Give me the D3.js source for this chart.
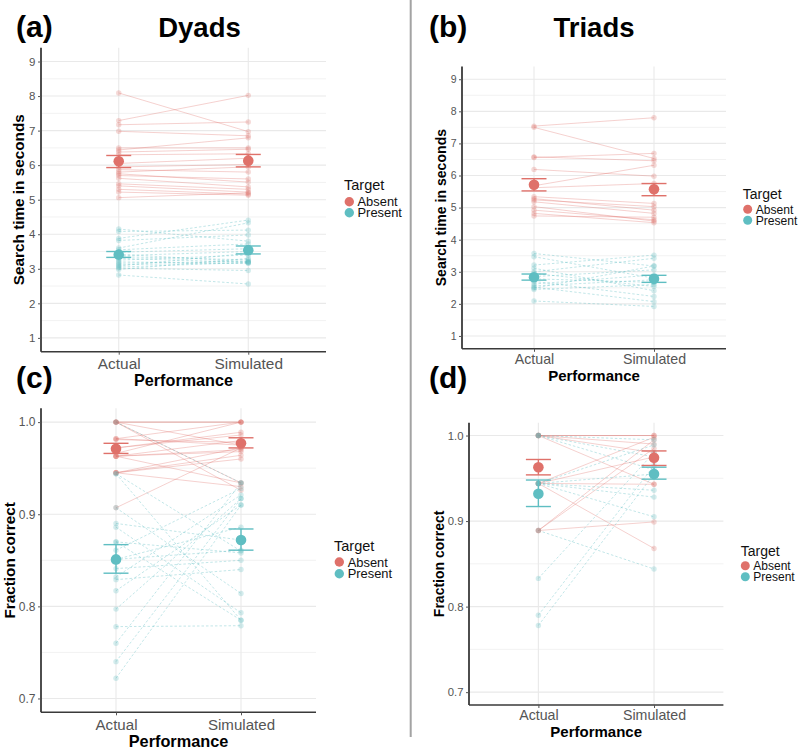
<!DOCTYPE html>
<html><head><meta charset="utf-8">
<script src="https://cdn.jsdelivr.net/npm/d3@7"></script>
<style>body{margin:0;background:#fff}svg{display:block;font-family:"Liberation Sans",Arial,Helvetica,sans-serif}</style>
</head><body><svg id="chart" width="800" height="749"></svg>
<script>
// ---------- data ----------
const categories = ["Actual", "Simulated"];
const targetLevels = ["Absent", "Present"];
const timeTicks = [1, 2, 3, 4, 5, 6, 7, 8, 9];
const timeMinor = [1.5, 2.5, 3.5, 4.5, 5.5, 6.5, 7.5, 8.5];
const fracTicks = [0.7, 0.8, 0.9, 1.0];
const fracMinor = [0.75, 0.85, 0.95];

// (a) Dyads, search time: [Actual, Simulated] per dyad
const dyadsTimeAbsent = [[8.09,6.97],[7.29,8.02],[7.17,7.25],[6.98,6.85],[6.50,6.50],[6.44,6.79],[6.38,6.46],[6.30,6.33],[6.05,6.20],[5.95,6.02],[5.87,5.80],[5.80,5.95],[5.75,5.51],[5.70,5.60],[5.62,5.37],[5.46,5.30],[5.40,5.22],[5.30,5.16],[5.22,5.13],[5.06,5.20]];
const dyadsTimePresent = [[4.15,3.80],[4.08,4.12],[3.88,4.41],[3.82,3.98],[3.60,4.33],[3.55,3.72],[3.48,3.58],[3.42,3.21],[3.38,3.50],[3.35,3.26],[3.30,3.19],[3.25,3.40],[3.20,3.16],[3.16,3.22],[3.12,3.17],[3.08,3.45],[3.05,3.18],[3.02,2.95],[2.98,3.30],[2.82,2.56]];
const dyadsTimeMean = {Absent:[6.11,6.13], Present:[3.41,3.54]};
const dyadsTimeLo = {Absent:[5.93,5.95], Present:[3.33,3.43]};
const dyadsTimeHi = {Absent:[6.28,6.31], Present:[3.50,3.66]};

// (b) Triads, search time
const triadsTimeAbsent = [[7.54,7.80],[7.50,6.53],[6.58,6.46],[6.56,6.69],[6.19,5.98],[5.68,6.32],[5.62,5.75],[5.34,5.13],[5.28,4.92],[5.24,5.03],[5.18,4.82],[5.03,4.58],[4.92,4.62],[4.82,4.53],[4.74,4.70]];
const triadsTimePresent = [[3.57,3.18],[3.47,2.80],[3.21,3.52],[3.11,2.41],[3.00,3.42],[2.95,2.54],[2.85,3.06],[2.78,2.67],[2.70,2.23],[2.62,2.90],[2.56,2.75],[2.52,2.07],[2.49,3.18],[2.45,2.60],[2.09,1.92]];
const triadsTimeMean = {Absent:[5.71,5.57], Present:[2.83,2.78]};
const triadsTimeLo = {Absent:[5.52,5.37], Present:[2.74,2.67]};
const triadsTimeHi = {Absent:[5.90,5.75], Present:[2.93,2.89]};

// (c) Dyads, fraction correct
const dyadsFracAbsent = [[1.0,1.0],[1.0,1.0],[1.0,0.934],[1.0,0.975],[1.0,0.926],[0.982,1.0],[0.982,0.975],[0.972,0.989],[0.972,0.986],[0.966,1.0],[0.963,0.970],[0.963,0.968],[0.963,0.980],[0.963,0.934],[0.945,0.972],[0.945,0.964],[0.945,0.960],[0.945,0.930],[0.907,0.972],[0.981,0.978]];
const dyadsFracPresent = [[1.0,0.934],[0.944,0.860],[0.944,0.785],[0.907,0.814],[0.890,0.872],[0.886,0.793],[0.870,0.858],[0.861,0.928],[0.851,0.886],[0.841,0.850],[0.832,0.921],[0.829,0.840],[0.817,0.910],[0.797,0.917],[0.778,0.779],[0.760,0.934],[0.740,0.917],[0.722,0.910],[0.870,0.785],[0.851,0.861]];
const dyadsFracMean = {Absent:[0.971,0.977], Present:[0.851,0.872]};
const dyadsFracLo = {Absent:[0.966,0.972], Present:[0.836,0.861]};
const dyadsFracHi = {Absent:[0.977,0.983], Present:[0.867,0.884]};

// (d) Triads, fraction correct
const triadsFracAbsent = [[1.0,1.0],[1.0,1.0],[1.0,0.980],[1.0,0.943],[1.0,0.990],[0.944,0.998],[0.944,0.943],[0.944,0.868],[0.889,0.995],[0.889,0.985],[0.889,0.899],[0.944,0.975]];
const triadsFracPresent = [[1.0,0.995],[1.0,0.960],[1.0,0.975],[0.944,0.989],[0.944,0.936],[0.944,0.955],[0.944,0.928],[0.889,0.844],[0.833,0.980],[0.790,0.965],[0.778,0.955],[0.944,0.905]];
const triadsFracMean = {Absent:[0.963,0.974], Present:[0.932,0.955]};
const triadsFracLo = {Absent:[0.954,0.965], Present:[0.917,0.949]};
const triadsFracHi = {Absent:[0.972,0.982], Present:[0.948,0.963]};

// ---------- styling / layout ----------
const colors = {Absent: "#DF716A", Present: "#5FBEC2"};
const svg = d3.select("#chart");
const font = '"Liberation Sans", Arial, Helvetica, sans-serif';

const panels = [
  {label:"(a)", title:"Dyads", left:41, right:326, top:47.7, bottom:351.7, yDomain:[0.6,9.4], ticks:timeTicks, minor:timeMinor, fmt:d3.format("d"),
   ytitle:"Search time in seconds", ytx:18.5, yfs:15.3, ytickFs:11.5, xtickFs:15.4, xtickDy:17.5, xtitleDy:34.5, xtitleFs:16.2,
   data:{Absent:dyadsTimeAbsent, Present:dyadsTimePresent}, mean:dyadsTimeMean, lo:dyadsTimeLo, hi:dyadsTimeHi,
   leg:{tx:344, ty:190, cx:349.3, cy:201.7, gap:11, textX:357.5, tfs:14.5, ifs:12.9, r:4.7}},
  {label:"(b)", title:"Triads", left:462, right:726, top:66.4, bottom:348.8, yDomain:[0.6,9.4], ticks:timeTicks, minor:timeMinor, fmt:d3.format("d"),
   ytitle:"Search time in seconds", ytx:440.5, yfs:14.1, ytickFs:10.5, xtickFs:14.2, xtickDy:15.5, xtitleDy:32, xtitleFs:15,
   data:{Absent:triadsTimeAbsent, Present:triadsTimePresent}, mean:triadsTimeMean, lo:triadsTimeLo, hi:triadsTimeHi,
   leg:{tx:742.7, ty:199, cx:747.7, cy:209.3, gap:11, textX:755.7, tfs:14, ifs:12.1, r:4.5}},
  {label:"(c)", title:null, left:41, right:316, top:408.3, bottom:712.3, yDomain:[0.685,1.015], ticks:fracTicks, minor:fracMinor, fmt:d3.format(".1f"),
   ytitle:"Fraction correct", ytx:9.5, yfs:15.3, ytickFs:12, xtickFs:15.1, xtickDy:17.3, xtitleDy:34.2, xtitleFs:16.3,
   data:{Absent:dyadsFracAbsent, Present:dyadsFracPresent}, mean:dyadsFracMean, lo:dyadsFracLo, hi:dyadsFracHi,
   leg:{tx:334, ty:550.5, cx:339.3, cy:562, gap:11.7, textX:347.7, tfs:14.5, ifs:12.9, r:4.7}},
  {label:"(d)", title:null, left:469, right:723.4, top:422.7, bottom:705, yDomain:[0.685,1.015], ticks:fracTicks, minor:fracMinor, fmt:d3.format(".1f"),
   ytitle:"Fraction correct", ytx:438.5, yfs:14, ytickFs:11.3, xtickFs:14.2, xtickDy:15.2, xtitleDy:31.7, xtitleFs:15,
   data:{Absent:triadsFracAbsent, Present:triadsFracPresent}, mean:triadsFracMean, lo:triadsFracLo, hi:triadsFracHi,
   leg:{tx:740.7, ty:555.5, cx:745.3, cy:565.7, gap:11, textX:753.3, tfs:14, ifs:12, r:4.5}}
];

// divider
svg.append("line").attr("x1",410.7).attr("x2",410.7).attr("y1",0).attr("y2",737)
  .attr("stroke","#a3a3a3").attr("stroke-width",2);

// headers
svg.append("text").attr("x",16).attr("y",37).attr("font-size",30).attr("font-weight","bold").text("(a)");
svg.append("text").attr("x",199.5).attr("y",37).attr("text-anchor","middle").attr("font-size",27.5).attr("font-weight","bold").text("Dyads");
svg.append("text").attr("x",429).attr("y",37).attr("font-size",30).attr("font-weight","bold").text("(b)");
svg.append("text").attr("x",594).attr("y",37).attr("text-anchor","middle").attr("font-size",27.5).attr("font-weight","bold").text("Triads");
svg.append("text").attr("x",16).attr("y",388).attr("font-size",30).attr("font-weight","bold").text("(c)");
svg.append("text").attr("x",429).attr("y",388).attr("font-size",30).attr("font-weight","bold").text("(d)");

panels.forEach(p => {
  const g = svg.append("g");
  const x = d3.scalePoint().domain(categories).range([p.left, p.right]).padding(0.6);
  const y = d3.scaleLinear().domain(p.yDomain).range([p.bottom, p.top]);

  // grid
  g.append("g").selectAll("line").data(p.minor).join("line")
    .attr("x1",p.left).attr("x2",p.right).attr("y1",d=>y(d)).attr("y2",d=>y(d))
    .attr("stroke","#f1f1f1").attr("stroke-width",0.9);
  g.append("g").selectAll("line").data(p.ticks).join("line")
    .attr("x1",p.left).attr("x2",p.right).attr("y1",d=>y(d)).attr("y2",d=>y(d))
    .attr("stroke","#e9e9e9").attr("stroke-width",1.1);
  g.append("g").selectAll("line").data(categories).join("line")
    .attr("x1",d=>x(d)).attr("x2",d=>x(d)).attr("y1",p.top).attr("y2",p.bottom)
    .attr("stroke","#e9e9e9").attr("stroke-width",1.1);

  // individual lines
  targetLevels.forEach(t => {
    g.append("g").selectAll("line").data(p.data[t]).join("line")
      .attr("x1",x(categories[0])).attr("x2",x(categories[1]))
      .attr("y1",d=>y(d[0])).attr("y2",d=>y(d[1]))
      .attr("stroke",colors[t]).attr("stroke-width",1)
      .attr("stroke-opacity",t==="Absent"?0.32:0.38)
      .attr("stroke-dasharray",t==="Absent"?null:"2.5,2");
  });
  // individual points
  targetLevels.forEach(t => {
    const pts = [];
    p.data[t].forEach(d => { pts.push([categories[0], d[0]]); pts.push([categories[1], d[1]]); });
    g.append("g").selectAll("circle").data(pts).join("circle")
      .attr("cx",d=>x(d[0])).attr("cy",d=>y(d[1])).attr("r",2.7)
      .attr("fill",colors[t]).attr("fill-opacity",0.27);
  });
  // error bars and means
  targetLevels.forEach(t => {
    categories.forEach((c,i) => {
      const eg = g.append("g").attr("stroke",colors[t]).attr("stroke-width",1.4);
      eg.append("line").attr("x1",x(c)).attr("x2",x(c)).attr("y1",y(p.lo[t][i])).attr("y2",y(p.hi[t][i]));
      eg.append("line").attr("x1",x(c)-12.5).attr("x2",x(c)+12.5).attr("y1",y(p.lo[t][i])).attr("y2",y(p.lo[t][i]));
      eg.append("line").attr("x1",x(c)-12.5).attr("x2",x(c)+12.5).attr("y1",y(p.hi[t][i])).attr("y2",y(p.hi[t][i]));
    });
    g.append("g").selectAll("circle").data(categories).join("circle")
      .attr("cx",d=>x(d)).attr("cy",(d,i)=>y(p.mean[t][i])).attr("r",5.3)
      .attr("fill",colors[t]);
  });

  // axes
  const ya = g.append("g").attr("transform",`translate(${p.left},0)`)
    .call(d3.axisLeft(y).tickValues(p.ticks).tickFormat(p.fmt).tickSize(3).tickPadding(2.5));
  ya.select(".domain").attr("stroke","#3a3a3a").attr("stroke-width",1.8)
    .attr("d",`M0,${p.bottom}V${p.top}`);
  ya.selectAll(".tick line").attr("stroke","#555");
  ya.selectAll(".tick text").attr("fill","#555").attr("font-size",p.ytickFs).attr("font-family",font);

  const xa = g.append("g").attr("transform",`translate(0,${p.bottom})`)
    .call(d3.axisBottom(x).tickSize(3).tickPadding(3));
  xa.select(".domain").attr("stroke","#3a3a3a").attr("stroke-width",1.6)
    .attr("d",`M${p.left},0H${p.right}`);
  xa.selectAll(".tick line").attr("stroke","#555");
  xa.selectAll(".tick text").attr("fill","#555").attr("font-size",p.xtickFs).attr("font-family",font)
    .attr("dy",null).attr("y",p.xtickDy);

  // axis titles
  g.append("text").attr("x",(p.left+p.right)/2).attr("y",p.bottom+p.xtitleDy)
    .attr("text-anchor","middle").attr("font-weight","bold").attr("font-size",p.xtitleFs).text("Performance");
  g.append("text").attr("transform",`translate(${p.ytx},${(p.top+p.bottom)/2}) rotate(-90)`)
    .attr("text-anchor","middle").attr("dominant-baseline","central").attr("font-weight","bold")
    .attr("font-size",p.yfs).text(p.ytitle);

  // legend
  const L = p.leg;
  g.append("text").attr("x",L.tx).attr("y",L.ty).attr("font-size",L.tfs).attr("fill","#111").text("Target");
  targetLevels.forEach((t,i) => {
    g.append("circle").attr("cx",L.cx).attr("cy",L.cy+i*L.gap).attr("r",L.r).attr("fill",colors[t]);
    g.append("text").attr("x",L.textX).attr("y",L.cy+i*L.gap).attr("dy","0.36em")
      .attr("font-size",L.ifs).attr("fill","#111").text(t);
  });
});
</script></body></html>
